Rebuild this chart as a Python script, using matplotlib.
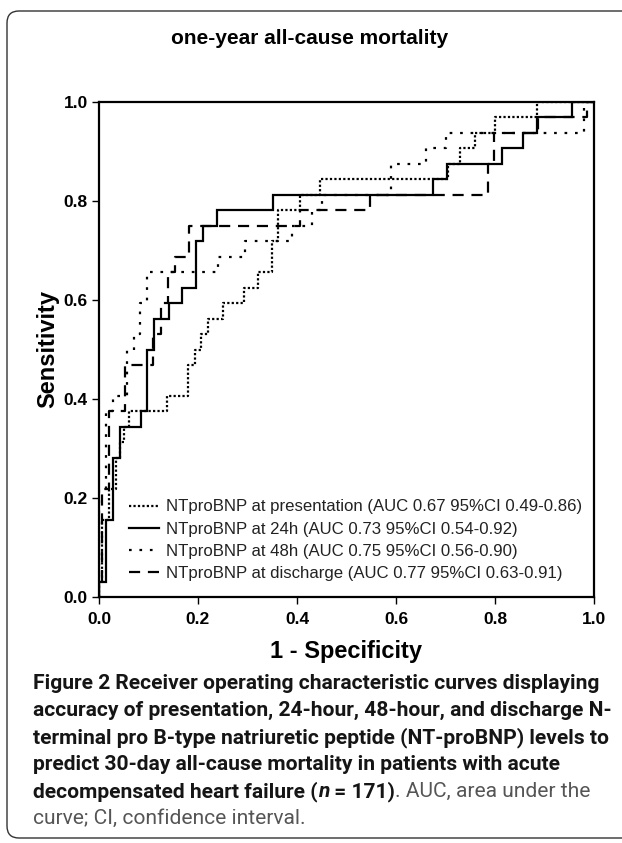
import matplotlib
matplotlib.use("Agg")
import matplotlib.pyplot as plt
from matplotlib import font_manager
from matplotlib.patches import PathPatch
from matplotlib.path import Path
from matplotlib.transforms import IdentityTransform

W, H = 622, 843

# ROC curves: false positive rate where each step rises,
# and number of deaths detected (out of 32) after that rise
n_deaths = 32
pres_fpr = [0.0, 0.007, 0.021, 0.035, 0.042, 0.05, 0.06, 0.137, 0.18, 0.194, 0.207, 0.22,
            0.25, 0.293, 0.322, 0.349, 0.362, 0.406, 0.446, 0.705, 0.729, 0.76, 0.8, 0.884]
pres_hits = [1, 5, 7, 9, 10, 11, 12, 13, 15, 16, 17, 18,
             19, 20, 21, 23, 25, 26, 27, 28, 29, 30, 31, 32]
h24_fpr = [0.0, 0.014, 0.028, 0.042, 0.085, 0.097, 0.111, 0.142, 0.167, 0.196, 0.21, 0.238,
           0.351, 0.674, 0.704, 0.815, 0.857, 0.885, 0.955]
h24_hits = [1, 5, 9, 11, 12, 16, 18, 19, 20, 23, 24, 25,
            26, 27, 28, 29, 30, 31, 32]
h48_fpr = [0.0, 0.014, 0.028, 0.056, 0.07, 0.083, 0.097, 0.24, 0.295, 0.39, 0.43, 0.45,
           0.59, 0.66, 0.70, 0.98]
h48_hits = [7, 12, 13, 16, 17, 19, 21, 22, 23, 24, 25, 26,
            28, 29, 30, 32]
dis_fpr = [0.0, 0.007, 0.021, 0.053, 0.11, 0.125, 0.139, 0.154, 0.182, 0.406, 0.547,
           0.786, 0.797, 0.887, 0.985]
dis_hits = [1, 7, 12, 15, 17, 19, 21, 22, 24, 25, 26,
            28, 30, 31, 32]

labels = ["NTproBNP at presentation (AUC 0.67 95%CI 0.49-0.86)",
          "NTproBNP at 24h (AUC 0.73 95%CI 0.54-0.92)",
          "NTproBNP at 48h (AUC 0.75 95%CI 0.56-0.90)",
          "NTproBNP at discharge (AUC 0.77 95%CI 0.63-0.91)"]

ticks = [0.0, 0.2, 0.4, 0.6, 0.8, 1.0]


def stairs(fpr, hits):
    x, y = [0.0], [0.0]
    prev = 0
    for xi, k in zip(fpr, hits):
        x += [xi, xi]
        y += [prev / n_deaths, k / n_deaths]
        prev = k
    x.append(1.0)
    y.append(prev / n_deaths)
    return x, y


def has_font(name):
    try:
        font_manager.findfont(font_manager.FontProperties(family=name), fallback_to_default=False)
        return True
    except ValueError:
        return False


plt.rcParams['font.family'] = ['Liberation Sans', 'DejaVu Sans']
cap_font = 'Liberation Sans'
for name in ['Roboto', 'Open Sans']:
    if has_font(name):
        cap_font = name
        break

fig = plt.figure(figsize=(W / 100, H / 100), dpi=100)
ax = fig.add_axes([99 / W, 1 - 597 / H, 495 / W, 495 / H])

lw = 1.6
styles = [dict(ls=(0, (1.0, 1.0))),
          dict(ls='-'),
          dict(ls=(0, (1.2, 3.5))),
          dict(ls=(0, (5.0, 3.5)))]
curves = [(pres_fpr, pres_hits), (h24_fpr, h24_hits), (h48_fpr, h48_hits), (dis_fpr, dis_hits)]
for (f, k), st, lab in zip(curves, styles, labels):
    x, y = stairs(f, k)
    ax.plot(x, y, color='black', lw=lw, label=lab, solid_joinstyle='miter',
            dash_capstyle='butt', **st)

ax.set_xlim(0, 1)
ax.set_ylim(0, 1)
ax.set_xticks(ticks)
ax.set_yticks(ticks)
ax.set_xticklabels([f"{t:.1f}" for t in ticks], fontweight='bold', fontsize=12.5)
ax.set_yticklabels([f"{t:.1f}" for t in ticks], fontweight='bold', fontsize=12.5)
ax.tick_params(direction='out', length=5, width=1.0)
ax.tick_params(axis='x', pad=6)
ax.tick_params(axis='y', pad=3)
for s in ax.spines.values():
    s.set_linewidth(1.6)
ax.set_xlabel("1 - Specificity", fontweight='bold', fontsize=17, labelpad=9)
ax.set_ylabel("Sensitivity", fontweight='bold', fontsize=17, labelpad=3)

leg = ax.legend(loc='lower left', bbox_to_anchor=(0.06, 0.033), frameon=False,
                fontsize=12.1, handlelength=1.8, handletextpad=0.4,
                labelspacing=0.42, borderpad=0, borderaxespad=0)
for t in leg.get_texts():
    t.set_color('#222222')

fig.text(310 / W, 1 - 38 / H, "one-year all-cause mortality", ha='center', va='center',
         fontweight='bold', fontsize=15)

# outer rounded frame, open on the right where it runs past the edge
r = 12
x0, y0, y1 = 7, 5, 832
verts = [(W + 2, y1), (x0 + r, y1), (x0, y1), (x0, y1 - r), (x0, y0 + r),
         (x0, y0), (x0 + r, y0), (W + 2, y0)]
codes = [Path.MOVETO, Path.LINETO, Path.CURVE3, Path.CURVE3, Path.LINETO,
         Path.CURVE3, Path.CURVE3, Path.LINETO]
frame = PathPatch(Path(verts, codes), transform=IdentityTransform(), fill=False,
                  lw=1.0, ec='#333333')
fig.add_artist(frame)

# caption
ink = '#151515'
grey = '#555555'
cap_lines = [
    [("Figure 2", 'bold', 'normal', ink),
     (" Receiver operating characteristic curves displaying", 'semibold', 'normal', ink)],
    [("accuracy of presentation, 24-hour, 48-hour, and discharge N-", 'semibold', 'normal', ink)],
    [("terminal pro B-type natriuretic peptide (NT-proBNP) levels to", 'semibold', 'normal', ink)],
    [("predict 30-day all-cause mortality in patients with acute", 'semibold', 'normal', ink)],
    [("decompensated heart failure (", 'semibold', 'normal', ink),
     ("n", 'semibold', 'italic', ink),
     (" = 171)", 'semibold', 'normal', ink),
     (". AUC, area under the", 'normal', 'normal', grey)],
    [("curve; CI, confidence interval.", 'normal', 'normal', grey)],
]
cap_y = [689, 716, 743, 770, 797, 824]
renderer = fig.canvas.get_renderer()


def run_width(text, weight, style, size):
    t = fig.text(0, 0, text, fontsize=size, fontweight=weight, fontstyle=style, family=cap_font)
    w = t.get_window_extent(renderer).width
    t.remove()
    return w


# size the caption so its widest line ends where the reference's lines end
base = 10
widest = max(sum(run_width(r_[0], r_[1], r_[2], base) for r_ in line) for line in cap_lines)
cap_size = base * (610 - 33) / widest

for line, yb in zip(cap_lines, cap_y):
    x = 33
    for text, weight, style, color in line:
        fig.text(x / W, 1 - yb / H, text, fontsize=cap_size, fontweight=weight,
                 fontstyle=style, color=color, family=cap_font, va='baseline')
        x += run_width(text, weight, style, cap_size)

fig.savefig("out.png", dpi=100)
